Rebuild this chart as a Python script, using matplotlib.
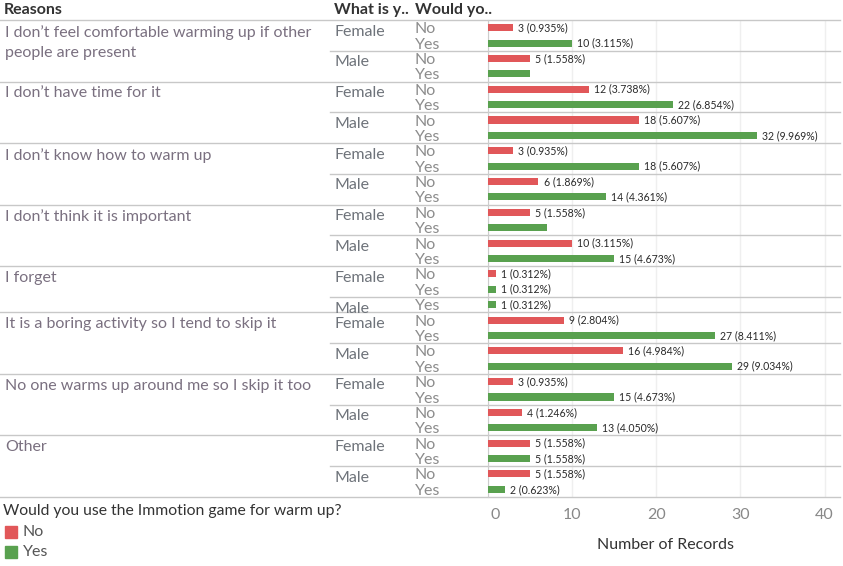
import matplotlib
matplotlib.use("Agg")
import matplotlib.pyplot as plt
import matplotlib.transforms as mtransforms

plt.rcParams['font.family'] = ['Lato', 'DejaVu Sans']

reasons = [
    "I don\u2019t feel comfortable warming up if other\npeople are present",
    "I don\u2019t have time for it",
    "I don\u2019t know how to warm up",
    "I don\u2019t think it is important",
    "I forget",
    "It is a boring activity so I tend to skip it",
    "No one warms up around me so I skip it too",
    "Other",
]
# one entry per bar row: reason index, gender, answer, count
rows_reason = [0,0,0,0, 1,1,1,1, 2,2,2,2, 3,3,3,3, 4,4,4, 5,5,5,5, 6,6,6,6, 7,7,7,7]
rows_gender = ["Female","Female","Male","Male"]*4 + ["Female","Female","Male"] + ["Female","Female","Male","Male"]*3
rows_answer = ["No","Yes","No","Yes"]*4 + ["No","Yes","Yes"] + ["No","Yes","No","Yes"]*3
counts = [3,10,5,5, 12,22,18,32, 3,18,6,14, 5,7,10,15, 1,1,1, 9,27,16,29, 3,15,4,13, 5,5,5,2]
hidden_labels = [3, 13]
x_ticks = [0, 10, 20, 30, 40]

colors = {"No": "#E15759", "Yes": "#59A14F"}
W, H = 843, 566
fig = plt.figure(figsize=(W/100, H/100), dpi=100)

def fx(px): return px / W
def fy(py): return 1 - py / H

FS = 11.5
top_px, bot_px = 20, 497
ax = fig.add_axes([fx(488), fy(bot_px), fx(838) - fx(488), fy(top_px) - fy(bot_px)])
n = len(counts)
ys = list(range(n))
total = sum(counts)
ax.barh(ys, counts, height=0.46, color=[colors[a] for a in rows_answer], zorder=3)
for i, c in enumerate(counts):
    if i in hidden_labels:
        continue
    ax.text(c + 0.6, i, f"{c} ({c/total*100:.3f}%)", va='center', ha='left',
            fontsize=7.6, color='#2a2a2a', zorder=4)
ax.set_ylim(n - 0.5, -0.5)
ax.set_xlim(0, 41.6)
ax.set_xticks(x_ticks)
ax.set_yticks([])
for s in ['top', 'right', 'bottom']:
    ax.spines[s].set_visible(False)
ax.spines['left'].set_color('#cccccc')
ax.xaxis.grid(True, color='#efefef', linewidth=1, zorder=0)
ax.tick_params(axis='x', length=0, labelsize=FS, labelcolor='#888888', pad=8)
ax.set_xlabel("Number of Records", fontsize=FS, color='#333333')
ax.xaxis.set_label_coords(0.506, -0.085)
first = ax.get_xticklabels()[0]
first.set_transform(first.get_transform() + mtransforms.ScaledTranslation(7/100, 0, fig.dpi_scale_trans))

blend = mtransforms.blended_transform_factory(fig.transFigure, ax.transData)

# header
hdr = dict(fontsize=11.5, color='#333333', va='center', ha='left', fontweight='bold')
fig.text(fx(4), fy(10), "Reasons", **hdr)
fig.text(fx(334), fy(10), "What is y..", **hdr)
fig.text(fx(415), fy(10), "Would yo..", **hdr)

line_kw = dict(color='#c8c8c8', linewidth=1, transform=blend, clip_on=False)
ax.plot([0, fx(840)], [-0.5, -0.5], **line_kw)
prev_reason = None
prev_gender = None
for i in range(n):
    r, g, a = rows_reason[i], rows_gender[i], rows_answer[i]
    if r != prev_reason:
        if i > 0:
            ax.plot([0, fx(840)], [i - 0.5, i - 0.5], **line_kw)
        ax.text(fx(5), i - 0.2, reasons[r], transform=blend, fontsize=FS,
                color='#7a7080', va='top', ha='left', linespacing=1.55)
        ax.text(fx(334), i + 0.25, g, transform=blend, fontsize=FS,
                color='#6e737a', va='center', ha='left')
    elif g != prev_gender:
        ax.plot([fx(330), fx(840)], [i - 0.5, i - 0.5], **line_kw)
        ax.text(fx(334), i + 0.25, g, transform=blend, fontsize=FS,
                color='#6e737a', va='center', ha='left')
    ax.text(fx(415), i + 0.1, a, transform=blend, fontsize=FS,
            color='#8c8c8c', va='center', ha='left')
    prev_reason, prev_gender = r, g
ax.plot([0, fx(840)], [n - 0.5, n - 0.5], **line_kw)

# legend
fig.text(fx(3), fy(511), "Would you use the Immotion game for warm up?", fontsize=11.3,
         color='#333333', va='center', ha='left')
for lab, py in [("No", 532), ("Yes", 552)]:
    fig.patches.append(plt.Rectangle((fx(5), fy(py + 6)), fx(12), fy(0) - fy(12),
                                     transform=fig.transFigure, color=colors[lab]))
    fig.text(fx(23), fy(py), lab, fontsize=FS, color='#555555', va='center', ha='left')

fig.savefig("out.png", dpi=100)
